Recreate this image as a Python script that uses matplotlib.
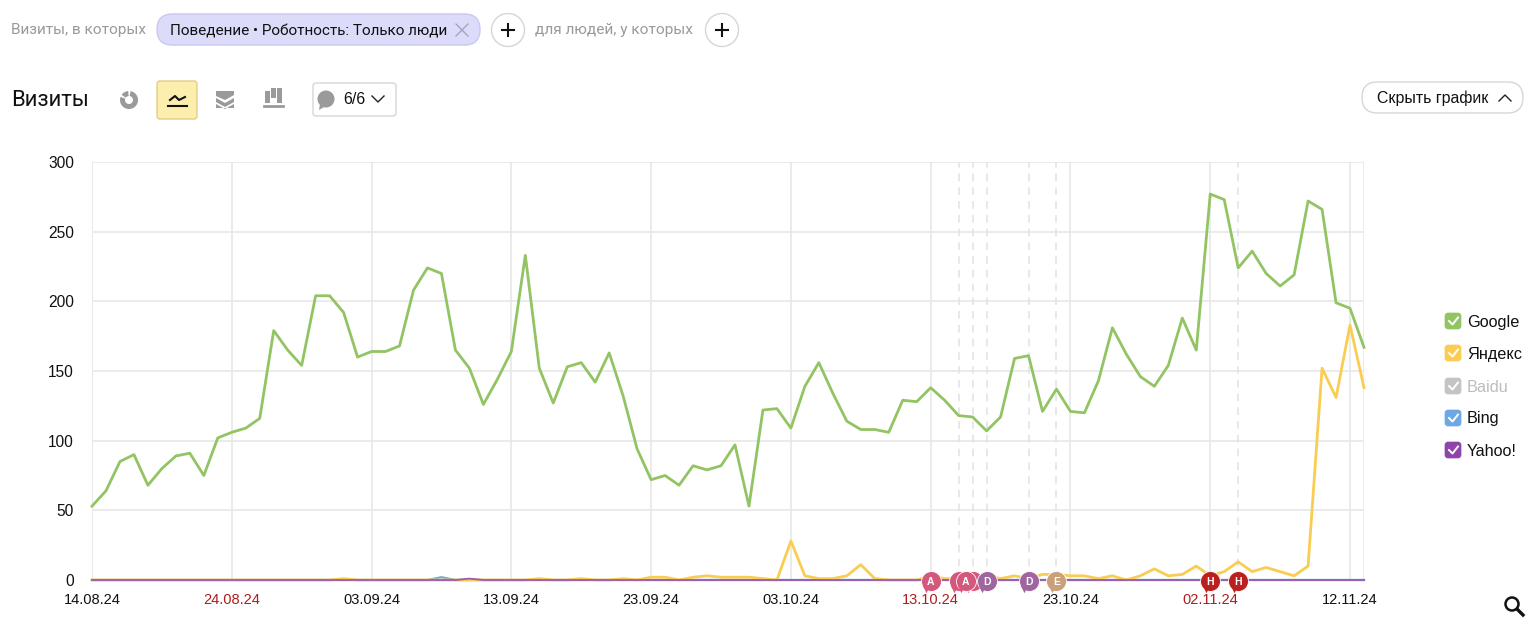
import numpy as np
import matplotlib.pyplot as plt
from matplotlib.patches import Circle, FancyBboxPatch, Polygon, Wedge

plt.rcParams["font.family"] = ["Liberation Sans", "DejaVu Sans"]

google = [53, 64, 85, 90, 68, 80, 89, 91, 75, 102,
          106, 109, 116, 179, 165, 154, 204, 204, 192, 160,
          164, 164, 168, 208, 224, 220, 165, 152, 126, 144,
          164, 233, 152, 127, 153, 156, 142, 163, 132, 94,
          72, 75, 68, 82, 79, 82, 97, 53, 122, 123,
          109, 139, 156, 134, 114, 108, 108, 106, 129, 128,
          138, 129, 118, 117, 107, 117, 159, 161, 121, 137,
          121, 120, 143, 181, 162, 146, 139, 154, 188, 165,
          277, 273, 224, 236, 220, 211, 219, 272, 266, 199,
          195, 167]
yandex = [0, 0, 0, 0, 0, 0, 0, 0, 0, 0,
          0, 0, 0, 0, 0, 0, 0, 0, 1, 0,
          0, 0, 0, 0, 0, 0, 0, 0, 0, 0,
          0, 0, 1, 0, 0, 1, 0, 0, 1, 0,
          2, 2, 0, 2, 3, 2, 2, 2, 1, 0,
          28, 3, 1, 1, 3, 11, 1, 0, 0, 0,
          3, 1, 1, 3, 3, 1, 3, 1, 4, 4,
          3, 3, 1, 3, 0, 3, 8, 3, 4, 10,
          3, 6, 13, 6, 9, 6, 3, 10, 152, 131,
          183, 138]
baidu = [0] * 92
bing = [0] * 25 + [2] + [0] * 66
yahoo = [0] * 27 + [1] + [0] * 64

tick_days = [0, 10, 20, 30, 40, 50, 60, 70, 80, 90]
tick_labels = ["14.08.24", "24.08.24", "03.09.24", "13.09.24", "23.09.24",
               "03.10.24", "13.10.24", "23.10.24", "02.11.24", "12.11.24"]
weekend_labels = ["24.08.24", "13.10.24", "02.11.24"]
y_ticks = [0, 50, 100, 150, 200, 250, 300]

note_days = [60, 62, 63, 62.5, 64, 67, 69, 80, 82]
note_letters = ["A", "", "", "A", "D", "D", "E", "H", "H"]
note_colors = ["#d4587c", "#d4587c", "#d4587c", "#d4587c", "#a0659f", "#a0659f",
               "#c9a079", "#bb2020", "#bb2020"]
dashed_days = [62, 63, 64, 67, 69, 82]

legend_names = ["Google", "Яндекс", "Baidu", "Bing", "Yahoo!"]
legend_colors = ["#92c464", "#f9cc52", "#c4c4c4", "#6ea8e4", "#8e44a8"]

W, H = 1536, 627
fig = plt.figure(figsize=(W / 100, H / 100), dpi=100)

# chart area, pixel box 92..1364 x 162..580
ax = fig.add_axes([92 / W, 1 - 580 / H, (1364 - 92) / W, (580 - 162) / H])
days = np.arange(len(google))
ax.set_xlim(0, 91)
ax.set_ylim(0, 300)
for s in ax.spines.values():
    s.set_visible(False)
ax.set_yticks(y_ticks)
ax.set_xticks(tick_days)
ax.set_xticklabels(tick_labels)
ax.tick_params(length=0, labelsize=10.5, colors="#111111")
ax.tick_params(axis="x", pad=9)
ax.tick_params(axis="y", labelsize=11.2, pad=13)
for lab in ax.get_xticklabels():
    if lab.get_text() in weekend_labels:
        lab.set_color("#b01c1c")
ax.grid(True, color="#e8e8e8", lw=1.2)
ax.axvline(91, color="#e8e8e8", lw=1.2)
ax.axvline(0, color="#e8e8e8", lw=1.2)
for d in dashed_days:
    ax.axvline(d, color="#e2e2e2", lw=1.1, ls=(0, (5, 4)))

ax.plot(days, google, color="#92c464", lw=2, clip_on=False, zorder=3)
ax.plot(days, baidu, color="#c4c4c4", lw=1.6, clip_on=False, zorder=3)
ax.plot(days, bing, color="#6ea8e4", lw=1.6, clip_on=False, zorder=3)
ax.plot(days, yandex, color="#f9cc52", lw=2, clip_on=False, zorder=4)
ax.plot(days, yahoo, color="#9a5bb0", lw=1.3, clip_on=False, zorder=5)

# notes sitting on the zero line
for i, (d, letter, c) in enumerate(zip(note_days, note_letters, note_colors)):
    ax.scatter([d], [-1], s=205, color=c, clip_on=False, zorder=6 + i * 0.01,
               edgecolors="white", linewidths=0.6)
    ax.scatter([d - 0.3], [-6.5], s=28, marker="v", color=c, clip_on=False,
               zorder=6 + i * 0.01, linewidths=0)
    ax.text(d, -1.3, letter, color="white", fontsize=7.5, fontweight="bold",
            ha="center", va="center", zorder=7)

# overlay in pixel coordinates for the page controls
ui = fig.add_axes([0, 0, 1, 1], zorder=10)
ui.set_xlim(0, W)
ui.set_ylim(H, 0)
ui.axis("off")
ui.patch.set_alpha(0)


def pill(x0, y0, x1, y1, r, face, edge, lw=1.0):
    ui.add_patch(FancyBboxPatch((x0 + r, y0 + r), x1 - x0 - 2 * r, y1 - y0 - 2 * r,
                                boxstyle=f"round,pad={r},rounding_size={r}",
                                fc=face, ec=edge, lw=lw))


def plus_button(x, y):
    ui.add_patch(Circle((x, y), 16.5, fc="white", ec="#d6d6d6", lw=1.0))
    ui.plot([x - 6, x + 6], [y, y], color="#111111", lw=1.5)
    ui.plot([x, x], [y - 6, y + 6], color="#111111", lw=1.5)


ui.text(11, 30, "Визиты, в которых", fontsize=11.1, color="#9a9a9a", va="center",
        family="Roboto")
pill(157, 14, 480, 45, 15.5, "#dcdcfa", "#c8c8f0")
ui.text(170, 31, "Поведение • Роботность: Только люди", fontsize=11, color="#111111",
        va="center", family="Roboto")
ui.plot([456, 468], [24, 36], color="#a0a0b8", lw=0.9)
ui.plot([456, 468], [36, 24], color="#a0a0b8", lw=0.9)
plus_button(508, 30)
ui.text(535, 30, "для людей, у которых", fontsize=11.1, color="#9a9a9a", va="center",
        family="Roboto")
plus_button(722, 30)

ui.text(11, 101, "Визиты", fontsize=15.8, color="#111111", va="center", family="Roboto")

# pie icon
ui.add_patch(Wedge((129, 100), 9, -80, 200, width=5, fc="#9a9a9a", ec="none"))
ui.add_patch(Wedge((129, 100), 9, 215, 265, width=5, fc="#9a9a9a", ec="none"))

# line icon, active
pill(157, 81, 197, 119, 3, "#fdeeae", "#e2cf87")
ui.plot([170, 175, 179, 185], [100, 96, 100, 97], color="#111111", lw=1.5)
ui.plot([168, 187], [106, 106], color="#111111", lw=1.5)

# area icon
ui.add_patch(Polygon([(216, 91), (234, 91), (234, 95), (225, 100), (216, 96)], fc="#9a9a9a", ec="none"))
ui.add_patch(Polygon([(216, 98), (225, 103), (234, 98), (234, 102), (225, 107), (216, 102)], fc="#9a9a9a", ec="none"))
ui.add_patch(Polygon([(216, 104), (225, 109), (234, 104), (234, 108), (216, 108)], fc="#9a9a9a", ec="none"))

# bars icon
for x0, top, bot in [(265, 91, 103), (271, 88, 98), (277, 88, 103)]:
    ui.add_patch(plt.Rectangle((x0, top), 4.5, bot - top, fc="#9a9a9a", ec="none"))
ui.plot([264, 283], [106, 106], color="#9a9a9a", lw=2)

# notes dropdown
pill(313, 83, 396, 116, 3, "white", "#d6d6d6")
ui.add_patch(Circle((326, 99), 8.5, fc="#9a9a9a", ec="none"))
ui.add_patch(Polygon([(320, 104), (324, 107), (319, 110)], fc="#9a9a9a", ec="none"))
ui.text(343, 100, "6/6", fontsize=11.5, color="#111111", va="center")
ui.plot([372, 378, 384], [96, 102, 96], color="#222222", lw=1.0)

# hide chart button
pill(1362, 82, 1523, 113, 15.5, "white", "#d6d6d6")
ui.text(1377, 98, "Скрыть график", fontsize=11.4, color="#111111", va="center")
ui.plot([1499, 1505, 1511], [101, 95, 101], color="#222222", lw=1.0)

# legend
legend_y = [321, 353, 386, 418, 450]
for name, c, y in zip(legend_names, legend_colors, legend_y):
    pill(1445, y - 8, 1461, y + 8, 3, c, c, lw=0.5)
    ui.plot([1449, 1452.5, 1458], [y, y + 3.5, y - 3.5], color="white", lw=1.4)
    ui.text(1467, y + 1, name, fontsize=11.7, va="center",
            color="#bdbdbd" if name == "Baidu" else "#111111")

# magnifier
ui.add_patch(Circle((1512, 604), 6.5, fc="none", ec="#111111", lw=1.8))
ui.plot([1517, 1523], [609, 615], color="#111111", lw=2.4)

fig.savefig("out.png", dpi=100, facecolor="white")
